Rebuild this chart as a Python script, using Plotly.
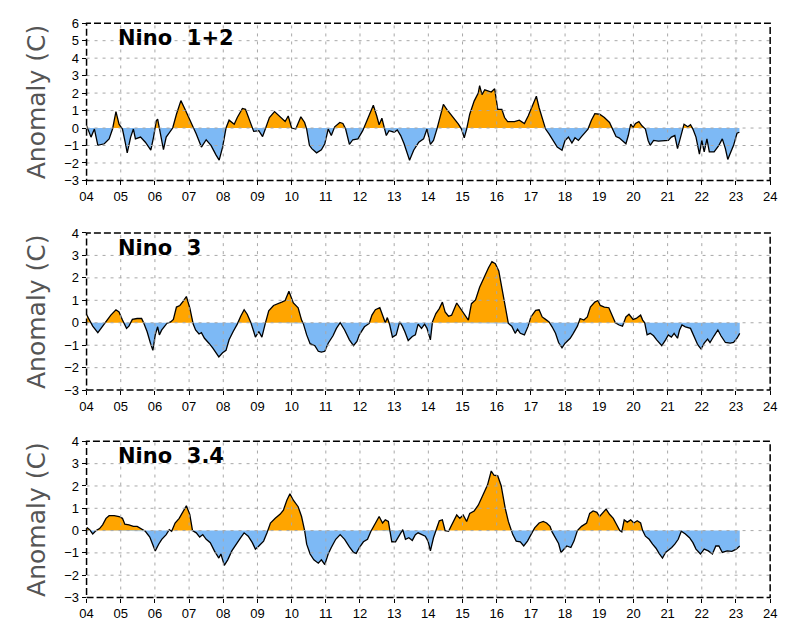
import plotly.graph_objects as go

# Weekly Nino-region SST anomalies (deg C), sampled as (decimal year, anomaly)
nino12_t = [2004.00, 2004.13, 2004.23, 2004.28, 2004.33, 2004.52, 2004.66, 2004.76, 2004.86, 2004.95,
            2005.05, 2005.14, 2005.19, 2005.29, 2005.37, 2005.43, 2005.58, 2005.72, 2005.88, 2005.96,
            2006.04, 2006.08, 2006.13, 2006.20, 2006.25, 2006.33, 2006.44, 2006.52, 2006.63, 2006.76,
            2006.88, 2007.02, 2007.13, 2007.21, 2007.36, 2007.50, 2007.64, 2007.79, 2007.88, 2007.98,
            2008.08, 2008.17, 2008.32, 2008.41, 2008.56, 2008.65, 2008.80, 2008.89, 2009.04, 2009.15,
            2009.23, 2009.35, 2009.50, 2009.66, 2009.81, 2009.90, 2010.00, 2010.12, 2010.27, 2010.38,
            2010.44, 2010.52, 2010.59, 2010.73, 2010.87, 2010.97, 2011.07, 2011.16, 2011.26, 2011.41,
            2011.50, 2011.58, 2011.69, 2011.79, 2011.94, 2012.08, 2012.18, 2012.27, 2012.39, 2012.49,
            2012.56, 2012.64, 2012.71, 2012.77, 2012.85, 2013.00, 2013.09, 2013.19, 2013.29, 2013.38,
            2013.45, 2013.57, 2013.72, 2013.86, 2013.96, 2014.06, 2014.15, 2014.25, 2014.35, 2014.44,
            2014.54, 2014.64, 2014.73, 2014.88, 2014.97, 2015.05, 2015.12, 2015.21, 2015.34, 2015.46,
            2015.50, 2015.57, 2015.65, 2015.74, 2015.84, 2015.94, 2016.03, 2016.15, 2016.23, 2016.32,
            2016.52, 2016.66, 2016.81, 2016.92, 2017.00, 2017.10, 2017.16, 2017.24, 2017.33, 2017.43,
            2017.53, 2017.62, 2017.77, 2017.91, 2018.00, 2018.10, 2018.20, 2018.29, 2018.39, 2018.48,
            2018.58, 2018.67, 2018.77, 2018.87, 2019.01, 2019.15, 2019.30, 2019.39, 2019.49, 2019.58,
            2019.68, 2019.78, 2019.85, 2019.92, 2019.99, 2020.06, 2020.16, 2020.25, 2020.35, 2020.43,
            2020.49, 2020.59, 2020.73, 2020.92, 2021.02, 2021.11, 2021.21, 2021.29, 2021.38, 2021.48,
            2021.59, 2021.67, 2021.74, 2021.83, 2021.93, 2022.00, 2022.07, 2022.15, 2022.22, 2022.36,
            2022.50, 2022.60, 2022.69, 2022.76, 2022.84, 2022.93, 2023.03, 2023.10]
nino12_v = [0.13, -0.52, -0.06, -0.62, -0.99, -0.90, -0.62, -0.06, 0.94, 0.22,
            -0.06, -0.90, -1.42, -0.52, -0.06, -0.62, -0.52, -0.81, -1.27, -0.52,
            0.41, 0.51, -0.06, -0.62, -1.24, -0.52, -0.24, 0.00, 0.79, 1.57,
            1.07, 0.41, 0.00, -0.34, -1.09, -0.67, -0.99, -1.55, -1.84, -1.09,
            0.00, 0.45, 0.22, 0.60, 1.12, 1.07, 0.22, -0.19, -0.15, -0.49,
            -0.06, 0.60, 0.94, 0.64, 0.37, 0.69, 0.00, -0.06, 0.64, 0.32,
            -0.06, -0.99, -1.18, -1.42, -1.24, -0.90, -0.06, -0.43, 0.07, 0.32,
            0.26, -0.06, -0.94, -0.67, -0.62, -0.15, 0.32, 0.75, 1.31, 0.69,
            0.19, 0.56, -0.06, -0.43, -0.15, -0.24, -0.11, -0.43, -0.90, -1.46,
            -1.84, -1.27, -0.81, -0.62, -0.06, -0.94, -0.71, -0.06, 0.69, 1.35,
            1.07, 0.79, 0.60, 0.22, -0.06, -0.56, -0.06, 0.79, 1.54, 2.00,
            2.43, 1.91, 2.19, 2.13, 2.06, 2.25, 1.07, 1.07, 0.60, 0.37,
            0.37, 0.45, 0.26, 0.69, 1.07, 1.44, 1.82, 1.16, 0.51, -0.06,
            -0.34, -0.62, -1.09, -1.27, -0.71, -0.52, -0.86, -0.56, -0.71, -0.49,
            -0.24, -0.06, 0.45, 0.82, 0.79, 0.60, 0.32, -0.06, -0.49, -0.56,
            -0.71, -0.90, -0.43, 0.22, 0.04, 0.26, 0.37, 0.13, -0.06, -0.71,
            -0.99, -0.71, -0.75, -0.75, -0.71, -0.52, -0.43, -1.18, -0.49, 0.22,
            0.07, 0.19, -0.06, -0.52, -1.50, -0.71, -1.37, -0.62, -1.37, -1.37,
            -0.99, -0.62, -1.18, -1.80, -1.42, -0.99, -0.30, -0.24]

nino3_t = [2004.00, 2004.09, 2004.18, 2004.33, 2004.47, 2004.57, 2004.71, 2004.86, 2004.95, 2005.05,
           2005.17, 2005.24, 2005.34, 2005.48, 2005.61, 2005.67, 2005.77, 2005.87, 2005.94, 2006.01,
           2006.08, 2006.13, 2006.20, 2006.27, 2006.35, 2006.46, 2006.54, 2006.63, 2006.73, 2006.83,
           2006.92, 2007.02, 2007.12, 2007.19, 2007.29, 2007.36, 2007.45, 2007.58, 2007.69, 2007.87,
           2007.98, 2008.08, 2008.17, 2008.29, 2008.41, 2008.51, 2008.61, 2008.70, 2008.80, 2008.89,
           2008.94, 2009.04, 2009.13, 2009.23, 2009.33, 2009.47, 2009.62, 2009.71, 2009.81, 2009.92,
           2010.05, 2010.19, 2010.29, 2010.34, 2010.44, 2010.54, 2010.68, 2010.78, 2010.87, 2010.97,
           2011.07, 2011.21, 2011.31, 2011.42, 2011.55, 2011.69, 2011.81, 2011.91, 2011.98, 2012.13,
           2012.27, 2012.35, 2012.45, 2012.58, 2012.68, 2012.74, 2012.80, 2012.87, 2012.95, 2013.06,
           2013.16, 2013.24, 2013.31, 2013.41, 2013.53, 2013.62, 2013.70, 2013.80, 2013.89, 2013.96,
           2014.06, 2014.12, 2014.22, 2014.32, 2014.41, 2014.49, 2014.59, 2014.68, 2014.83, 2014.92,
           2015.04, 2015.17, 2015.26, 2015.38, 2015.50, 2015.65, 2015.76, 2015.86, 2015.96, 2016.06,
           2016.15, 2016.25, 2016.34, 2016.44, 2016.54, 2016.61, 2016.69, 2016.81, 2016.92, 2017.00,
           2017.14, 2017.24, 2017.33, 2017.43, 2017.53, 2017.62, 2017.72, 2017.81, 2017.91, 2018.00,
           2018.15, 2018.24, 2018.36, 2018.44, 2018.55, 2018.65, 2018.74, 2018.87, 2018.96, 2019.03,
           2019.15, 2019.28, 2019.37, 2019.47, 2019.58, 2019.68, 2019.78, 2019.87, 2019.99, 2020.08,
           2020.21, 2020.27, 2020.33, 2020.40, 2020.49, 2020.59, 2020.68, 2020.83, 2020.94, 2021.02,
           2021.11, 2021.19, 2021.29, 2021.35, 2021.42, 2021.52, 2021.67, 2021.78, 2021.88, 2021.98,
           2022.07, 2022.17, 2022.24, 2022.36, 2022.47, 2022.56, 2022.69, 2022.83, 2022.93, 2023.03,
           2023.11]
nino3_v = [0.36, 0.12, -0.15, -0.44, -0.15, 0.09, 0.34, 0.58, 0.48, 0.12,
           -0.25, -0.15, 0.15, 0.19, 0.19, 0.00, -0.39, -0.91, -1.23, -0.54,
           -0.18, -0.54, -0.32, -0.18, -0.03, 0.04, 0.15, 0.70, 0.77, 0.96,
           1.17, 0.67, -0.06, -0.32, -0.50, -0.44, -0.69, -0.91, -1.12, -1.52,
           -1.34, -1.23, -0.76, -0.39, -0.06, 0.29, 0.58, 0.38, 0.04, -0.39,
           -0.64, -0.39, -0.64, -0.03, 0.53, 0.77, 0.85, 0.92, 0.99, 1.40,
           0.88, 0.67, 0.12, -0.03, -0.54, -0.93, -1.02, -1.27, -1.31, -1.27,
           -0.91, -0.58, -0.25, 0.00, -0.32, -0.76, -1.02, -0.83, -0.54, -0.18,
           -0.03, 0.34, 0.58, 0.67, 0.26, 0.00, 0.23, -0.10, -0.64, -0.54,
           0.04, -0.15, -0.39, -0.79, -0.61, -0.54, -0.06, -0.25, -0.06, -0.25,
           -0.76, 0.04, 0.41, 0.63, 0.92, 0.48, 0.29, 0.34, 0.88, 0.67,
           0.38, 0.12, 0.85, 1.02, 1.58, 2.09, 2.45, 2.72, 2.63, 2.31,
           1.58, 0.77, -0.03, -0.15, -0.47, -0.29, -0.47, -0.54, -0.15, 0.26,
           0.55, 0.58, 0.26, 0.15, 0.04, -0.18, -0.47, -0.88, -1.12, -0.91,
           -0.69, -0.47, -0.15, 0.19, 0.12, 0.26, 0.70, 0.92, 0.99, 0.77,
           0.70, 0.67, 0.34, 0.00, -0.10, -0.15, 0.26, 0.38, 0.15, 0.19,
           0.34, 0.12, 0.00, -0.54, -0.47, -0.58, -0.76, -1.02, -0.76, -0.54,
           -0.64, -0.47, -0.69, -0.32, -0.10, -0.18, -0.25, -0.61, -0.98, -1.17,
           -0.91, -0.73, -0.88, -0.58, -0.32, -0.58, -0.88, -0.91, -0.88, -0.69,
           -0.47]

nino34_t = [2004.00, 2004.09, 2004.18, 2004.28, 2004.38, 2004.47, 2004.57, 2004.66, 2004.81, 2004.95,
            2005.05, 2005.12, 2005.24, 2005.37, 2005.48, 2005.63, 2005.72, 2005.85, 2005.96, 2006.01,
            2006.11, 2006.20, 2006.33, 2006.42, 2006.49, 2006.59, 2006.71, 2006.83, 2006.92, 2007.02,
            2007.10, 2007.21, 2007.31, 2007.40, 2007.50, 2007.62, 2007.74, 2007.87, 2007.93, 2008.03,
            2008.13, 2008.25, 2008.37, 2008.51, 2008.61, 2008.73, 2008.85, 2008.94, 2009.04, 2009.18,
            2009.28, 2009.38, 2009.52, 2009.66, 2009.76, 2009.86, 2009.95, 2010.05, 2010.19, 2010.29,
            2010.38, 2010.44, 2010.54, 2010.65, 2010.78, 2010.87, 2010.97, 2011.07, 2011.16, 2011.29,
            2011.42, 2011.55, 2011.69, 2011.81, 2011.89, 2011.98, 2012.10, 2012.22, 2012.32, 2012.45,
            2012.56, 2012.66, 2012.74, 2012.83, 2012.87, 2012.93, 2013.04, 2013.16, 2013.25, 2013.33,
            2013.43, 2013.53, 2013.62, 2013.70, 2013.80, 2013.91, 2013.99, 2014.06, 2014.15, 2014.25,
            2014.32, 2014.41, 2014.49, 2014.59, 2014.68, 2014.83, 2014.92, 2015.02, 2015.12, 2015.21,
            2015.34, 2015.46, 2015.60, 2015.73, 2015.84, 2015.92, 2016.03, 2016.13, 2016.25, 2016.34,
            2016.47, 2016.57, 2016.69, 2016.79, 2016.90, 2017.00, 2017.11, 2017.24, 2017.36, 2017.46,
            2017.56, 2017.62, 2017.72, 2017.81, 2017.88, 2017.96, 2018.05, 2018.17, 2018.26, 2018.36,
            2018.48, 2018.63, 2018.72, 2018.82, 2018.93, 2019.01, 2019.09, 2019.20, 2019.30, 2019.41,
            2019.51, 2019.60, 2019.66, 2019.73, 2019.82, 2019.92, 2020.01, 2020.11, 2020.21, 2020.27,
            2020.35, 2020.46, 2020.56, 2020.66, 2020.75, 2020.85, 2020.94, 2021.04, 2021.12, 2021.21,
            2021.31, 2021.40, 2021.52, 2021.64, 2021.74, 2021.83, 2021.96, 2022.07, 2022.19, 2022.31,
            2022.41, 2022.50, 2022.60, 2022.74, 2022.88, 2023.01, 2023.11]
nino34_v = [0.15, 0.04, -0.15, 0.00, 0.09, 0.26, 0.55, 0.67, 0.67, 0.63,
            0.55, 0.29, 0.26, 0.19, 0.19, 0.04, -0.03, -0.29, -0.76, -0.91,
            -0.61, -0.39, -0.18, 0.04, -0.03, 0.34, 0.55, 0.85, 1.11, 0.73,
            0.00, -0.10, -0.29, -0.18, -0.39, -0.54, -0.91, -1.23, -1.05, -1.56,
            -1.31, -0.91, -0.61, -0.32, -0.10, -0.25, -0.54, -0.83, -0.69, -0.47,
            -0.10, 0.34, 0.55, 0.73, 0.92, 1.36, 1.65, 1.36, 1.07, 0.63,
            0.00, -0.61, -1.05, -1.31, -1.46, -1.31, -1.52, -1.05, -0.76, -0.39,
            -0.18, -0.39, -0.73, -0.98, -1.02, -0.76, -0.50, -0.39, -0.03, 0.34,
            0.63, 0.34, 0.48, 0.41, -0.03, -0.50, -0.50, -0.18, 0.04, -0.39,
            -0.32, -0.44, -0.18, -0.10, -0.18, -0.25, -0.47, -0.91, -0.32, 0.19,
            0.44, 0.48, 0.00, -0.03, 0.26, 0.70, 0.55, 0.70, 0.41, 0.77,
            0.88, 1.14, 1.61, 2.04, 2.67, 2.48, 2.45, 2.01, 0.99, 0.41,
            -0.18, -0.47, -0.50, -0.69, -0.47, -0.18, 0.12, 0.34, 0.41, 0.34,
            0.19, -0.06, -0.32, -0.58, -0.98, -0.83, -0.69, -0.76, -0.47, 0.00,
            0.19, 0.34, 0.77, 0.88, 0.82, 0.63, 0.77, 0.96, 0.73, 0.55,
            0.26, 0.00, -0.06, 0.48, 0.38, 0.48, 0.34, 0.44, 0.34, 0.00,
            -0.25, -0.39, -0.61, -0.79, -1.02, -1.23, -0.98, -0.88, -0.76, -0.61,
            -0.39, -0.03, -0.15, -0.32, -0.54, -0.83, -1.05, -0.83, -0.91, -1.05,
            -0.69, -0.69, -0.98, -0.91, -0.93, -0.83, -0.69]

panel_titles = ["Nino  1+2", "Nino  3", "Nino  3.4"]
year_ticks = list(range(2004, 2025))
year_labels = [f"{y % 100:02d}" for y in year_ticks]
y_ranges = [(-3, 6), (-3, 4), (-3, 4)]

ORANGE = "#FFA500"
BLUE = "#7DB9F5"
W, H = 786, 627

# pixel boxes of the three panels (left, right, top, bottom)
PX_L, PX_R = 81, 777
panel_px = [(16.6, 177.7), (231.5, 392.5), (445, 605)]


def split_sign(t, v):
    """Return positive and negative parts, adding zero crossings."""
    pos_t, pos_v, neg_t, neg_v = [], [], [], []
    for i in range(len(t)):
        if i > 0 and (v[i - 1] > 0) != (v[i] > 0) and v[i - 1] != v[i]:
            tc = t[i - 1] + (t[i] - t[i - 1]) * (0 - v[i - 1]) / (v[i] - v[i - 1])
            pos_t.append(tc); pos_v.append(0.0)
            neg_t.append(tc); neg_v.append(0.0)
        pos_t.append(t[i]); pos_v.append(max(v[i], 0.0))
        neg_t.append(t[i]); neg_v.append(min(v[i], 0.0))
    return pos_t, pos_v, neg_t, neg_v


fig = go.Figure()
series = [(nino12_t, nino12_v), (nino3_t, nino3_v), (nino34_t, nino34_v)]
shapes = []
annotations = []
tick_font = dict(size=13, color="black", family="Liberation Sans")

for k, (t, v) in enumerate(series):
    ax = "" if k == 0 else str(k + 1)
    xr, yr = "x" + ax, "y" + ax
    pt, pv, nt, nv = split_sign(t, v)
    fig.add_trace(go.Scatter(x=pt, y=pv, xaxis=xr, yaxis=yr, mode="lines",
                             line=dict(width=0), fill="tozeroy", fillcolor=ORANGE,
                             hoverinfo="skip", showlegend=False))
    fig.add_trace(go.Scatter(x=nt, y=nv, xaxis=xr, yaxis=yr, mode="lines",
                             line=dict(width=0), fill="tozeroy", fillcolor=BLUE,
                             hoverinfo="skip", showlegend=False))
    fig.add_trace(go.Scatter(x=t, y=v, xaxis=xr, yaxis=yr, mode="lines",
                             line=dict(color="black", width=1.3), showlegend=False))

    top, bot = panel_px[k]
    y0, y1 = y_ranges[k]
    dom_y = [1 - bot / H, 1 - top / H]
    yticks = list(range(y0, y1 + 1))
    fig.update_layout({
        "xaxis" + ax: dict(domain=[PX_L / W, PX_R / W], range=[2004, 2024],
                           tickvals=year_ticks, ticktext=year_labels,
                           ticks="outside", ticklen=4, tickcolor="black",
                           showgrid=False, zeroline=False, showline=False,
                           anchor=yr, tickfont=tick_font),
        "yaxis" + ax: dict(domain=dom_y, range=[y0, y1], tickvals=yticks,
                           ticks="outside", ticklen=4, tickcolor="black",
                           showgrid=False, zeroline=False, showline=False,
                           anchor=xr, tickfont=tick_font),
    })

    xd, yd = xr + " domain", yr + " domain"
    # dotted grid drawn above the filled areas
    for yy in yticks[1:-1]:
        shapes.append(dict(type="line", xref=xd, yref=yr, x0=0, x1=1, y0=yy, y1=yy,
                           line=dict(color="#A8A8A8", width=1, dash="3px,5px"),
                           layer="above"))
    for xx in year_ticks[1:-1]:
        shapes.append(dict(type="line", xref=xr, yref=yd, x0=xx, x1=xx, y0=0, y1=1,
                           line=dict(color="#A8A8A8", width=1, dash="3px,5px"),
                           layer="above"))
    # dashed frame
    shapes.append(dict(type="rect", xref=xd, yref=yd, x0=0, x1=1, y0=0, y1=1,
                       line=dict(color="black", width=1.5, dash="7px,3px"),
                       layer="above"))

    annotations.append(dict(text="<b>" + panel_titles[k] + "</b>", xref="paper", yref="paper",
                            x=111 / W, y=1 - (top + 15) / H, xanchor="left",
                            yanchor="middle", showarrow=False,
                            font=dict(size=21, color="black", family="DejaVu Sans")))
    annotations.append(dict(text="Anomaly (C)", xref="paper", yref="paper",
                            x=30 / W, y=(dom_y[0] + dom_y[1]) / 2, textangle=-90,
                            xanchor="center", yanchor="middle", showarrow=False,
                            font=dict(size=25, color="#555555", family="DejaVu Sans")))

fig.update_layout(width=W, height=H, margin=dict(l=0, r=0, t=0, b=0),
                  plot_bgcolor="white", paper_bgcolor="white",
                  shapes=shapes, annotations=annotations)

fig.write_html("out.html")
